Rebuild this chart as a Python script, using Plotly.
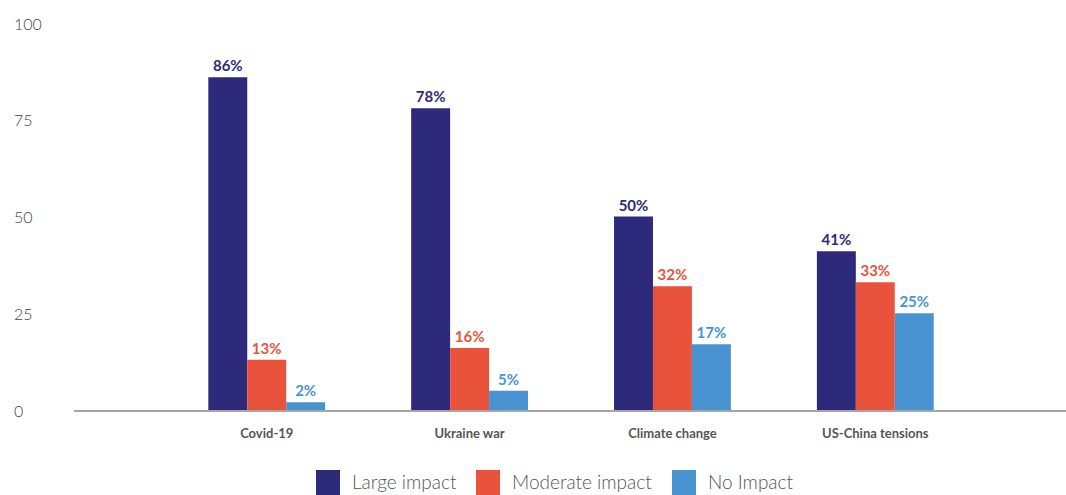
import plotly.graph_objects as go

categories = ["Covid-19", "Ukraine war", "Climate change", "US-China tensions"]
large_impact = [86, 78, 50, 41]
moderate_impact = [13, 16, 32, 33]
no_impact = [2, 5, 17, 25]
y_ticks = [0, 25, 50, 75, 100]

series_names = ["Large impact", "Moderate impact", "No Impact"]
series_values = [large_impact, moderate_impact, no_impact]
series_colors = ["#2e2a7b", "#e9533b", "#4994d0"]

# Page geometry (pixels) used to place the hand-drawn legend
W, H = 1066, 495
M_L, M_R, M_T, M_B = 74, 0, 23, 85
PLOT_W = W - M_L - M_R
PLOT_H = H - M_T - M_B


def px_x(px):
    return (px - M_L) / PLOT_W


def px_y(py):
    return (H - M_B - py) / PLOT_H


fig = go.Figure()

for name, values, color in zip(series_names, series_values, series_colors):
    fig.add_trace(go.Bar(
        x=categories,
        y=values,
        name=name,
        marker=dict(color=color, line=dict(width=0)),
        text=[f"{v}%" for v in values],
        textposition="outside",
        textfont=dict(family="Lato", size=15, color=color, weight="bold"),
        cliponaxis=False,
        showlegend=False,
    ))

# Left-aligned y tick labels
for t in y_ticks:
    fig.add_annotation(
        x=px_x(12), xref="paper", y=t, yref="y",
        text=str(t), showarrow=False, xanchor="left", yanchor="middle",
        font=dict(family="Lato", size=16, color="#444444", weight=300),
    )

# Legend: square swatch followed by its label
swatch_left = [316, 476, 672]
for name, color, sx in zip(series_names, series_colors, swatch_left):
    fig.add_shape(
        type="rect", xref="paper", yref="paper",
        x0=px_x(sx), x1=px_x(sx + 24), y0=px_y(470), y1=px_y(496),
        fillcolor=color, line=dict(width=0), layer="above",
    )
    fig.add_annotation(
        x=px_x(sx + 34), xref="paper", y=px_y(482), yref="paper",
        text=name, showarrow=False, xanchor="left", yanchor="middle",
        font=dict(family="Lato", size=19, color="#555555", weight=300),
    )

fig.update_layout(
    width=W, height=H,
    margin=dict(l=M_L, r=M_R, t=M_T, b=M_B),
    paper_bgcolor="white", plot_bgcolor="white",
    barmode="group", bargap=0.424, bargroupgap=0,
    showlegend=False,
    xaxis=dict(
        range=[-0.95, 3.94],
        showline=True, linecolor="#a6a6a6", linewidth=1.5,
        showgrid=False, ticks="",
        tickfont=dict(family="Lato", size=13, color="#555555", weight="bold"),
        ticklabelstandoff=11,
    ),
    yaxis=dict(
        range=[0, 100], tickvals=[100], showticklabels=False,
        showgrid=True, gridcolor="#cccccc", gridwidth=1.5,
        zeroline=False, showline=False,
    ),
)

fig.write_html("out.html")
